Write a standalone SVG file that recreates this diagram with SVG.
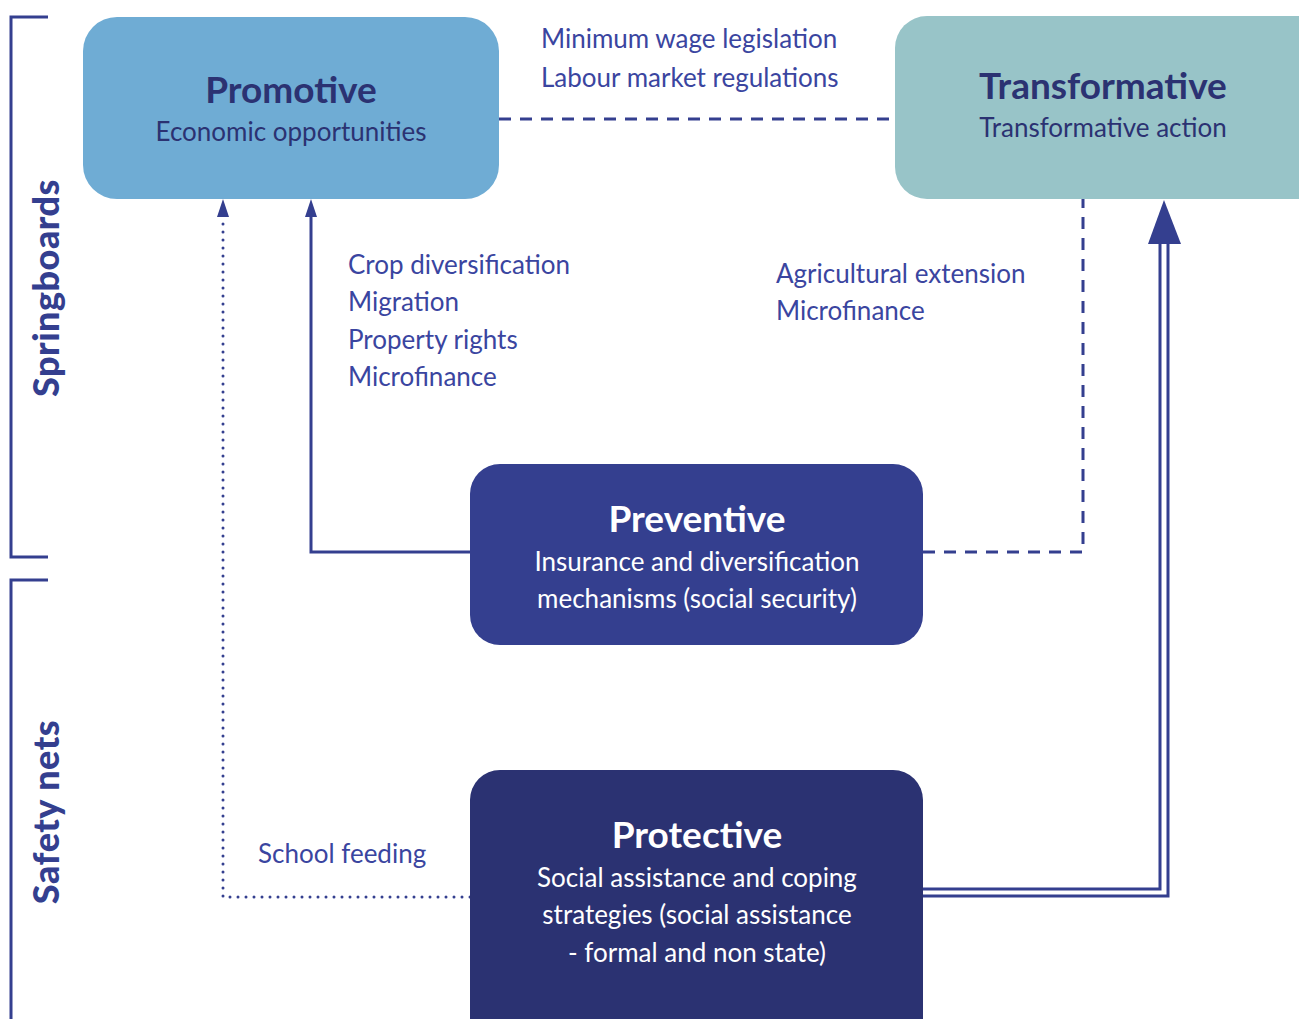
<svg xmlns="http://www.w3.org/2000/svg" width="1299" height="1019" viewBox="0 0 1299 1019">
<style>
.t{font-family:Lato,"Open Sans","Liberation Sans",sans-serif;}
.title{font-weight:bold;font-size:37px;text-anchor:middle;}
.sub{font-size:26px;text-anchor:middle;}
.lbl{font-size:26px;fill:#3A45A0;}
.side{font-weight:900;font-size:36px;fill:#343F8F;text-anchor:middle;letter-spacing:0.5px;}
.c{fill:none;stroke:#343F8F;stroke-width:3;}
</style>
<rect width="1299" height="1019" fill="#fff"/>
<g id="brackets" class="c">
<path d="M48,17 H11 V557 H48"/>
<path d="M48,580 H11 V1019"/>
</g>
<text class="t side" transform="translate(59,288) rotate(-90)">Springboards</text>
<text class="t side" transform="translate(59,812) rotate(-90)">Safety nets</text>
<g id="connectors">
<path class="c" d="M499,119 H895" stroke-dasharray="12,9"/>
<path class="c" d="M470,552 H311 V217"/>
<path d="M305,217 L311,199 L317,217 Z" fill="#343F8F"/>
<path class="c" d="M470,897 H223 V217" stroke-dasharray="0,8" stroke-linecap="round"/>
<path d="M217,217 L223,199 L229,217 Z" fill="#343F8F"/>
<path class="c" d="M923,552 H1083 V199" stroke-dasharray="12,9"/>
<path class="c" d="M923,889 H1160 V240"/>
<path class="c" d="M923,896 H1168 V240"/>
<path d="M1148,244 L1164,200 L1181,244 Z" fill="#343F8F"/>
</g>
<g id="promotive">
<rect x="83" y="17" width="416" height="182" rx="34" fill="#6FACD4"/>
<text class="t title" x="291" y="103" fill="#2B3272">Promotive</text>
<text class="t sub" x="291" y="141" fill="#2B3272">Economic opportunities</text>
</g>
<g id="transformative">
<rect x="895" y="16" width="440" height="183" rx="32" fill="#98C4C8"/>
<text class="t title" x="1103" y="99" fill="#2B3272">Transformative</text>
<text class="t sub" x="1103" y="137" fill="#2B3272">Transformative action</text>
</g>
<g id="preventive">
<rect x="470" y="464" width="453" height="181" rx="30" fill="#343F8F"/>
<text class="t title" x="697" y="532" fill="#fff">Preventive</text>
<text class="t sub" x="697" y="571" fill="#fff">Insurance and diversification</text>
<text class="t sub" x="697" y="608" fill="#fff">mechanisms (social security)</text>
</g>
<g id="protective">
<rect x="470" y="770" width="453" height="290" rx="30" fill="#2B3272"/>
<text class="t title" x="697" y="848" fill="#fff">Protective</text>
<text class="t sub" x="697" y="887" fill="#fff">Social assistance and coping</text>
<text class="t sub" x="697" y="924" fill="#fff">strategies (social assistance</text>
<text class="t sub" x="697" y="962" fill="#fff">- formal and non state)</text>
</g>
<g id="labels" class="t lbl">
<text x="541" y="48">Minimum wage legislation</text>
<text x="541" y="87">Labour market regulations</text>
<text x="348" y="274">Crop diversification</text>
<text x="348" y="311">Migration</text>
<text x="348" y="349">Property rights</text>
<text x="348" y="386">Microfinance</text>
<text x="776" y="283">Agricultural extension</text>
<text x="776" y="320">Microfinance</text>
<text x="258" y="863">School feeding</text>
</g>
</svg>
